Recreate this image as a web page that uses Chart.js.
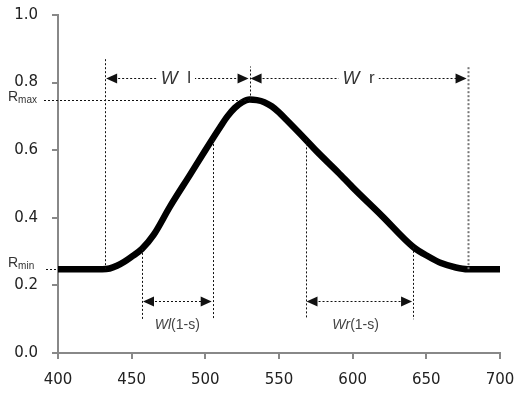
<!DOCTYPE html>
<html>
<head>
<meta charset="utf-8">
<script src="https://cdn.jsdelivr.net/npm/chart.js@4"></script>
<style>
  html, body { margin: 0; padding: 0; background: #fff; }
  #wrap { width: 517px; height: 393px; }
</style>
</head>
<body>
<div id="wrap"><canvas id="chart" width="517" height="393"></canvas></div>
<script>
// reflectance curve
const wavelengths = [400, 430, 435, 440, 445, 450, 457, 465, 476, 490, 500, 510, 515, 520, 525, 530, 535, 540, 545, 550, 555, 560, 568, 576, 590, 600, 620, 641, 652, 660, 670, 678, 690, 700];
const reflectance = [0.248, 0.248, 0.25, 0.258, 0.27, 0.285, 0.308, 0.35, 0.433, 0.53, 0.60, 0.668, 0.70, 0.725, 0.742, 0.75, 0.748, 0.742, 0.73, 0.712, 0.69, 0.668, 0.632, 0.595, 0.535, 0.49, 0.405, 0.314, 0.284, 0.266, 0.253, 0.248, 0.248, 0.248];

const xTicks = [400, 450, 500, 550, 600, 650, 700];
const yTicks = [0, 0.2, 0.4, 0.6, 0.8, 1.0];

// annotation values (wavelength / reflectance)
const rMin = 0.248;
const rMax = 0.75;
const wlStart = 432, wlPeak = 530, wrEnd = 678;
const slopeMarks = [457, 505, 568, 641];
const slopeMarkR = [0.308, 0.63, 0.632, 0.314];
const upperArrowY = 0.815, upperLineTop = 0.873;
const lowerArrowY = 0.155, lowerLineBottom = 0.1, lowerLabelY = 0.083;

const annotate = {
  id: 'annotate',
  afterDatasetsDraw(chart) {
    const { ctx, scales: { x, y } } = chart;
    const px = v => x.getPixelForValue(v);
    const py = v => y.getPixelForValue(v);

    function vline(xv, y0, y1) {
      ctx.beginPath();
      ctx.moveTo(Math.round(px(xv)) + 0.5, py(y0));
      ctx.lineTo(Math.round(px(xv)) + 0.5, py(y1));
      ctx.stroke();
    }
    function hline(x0, x1, yv) {
      ctx.beginPath();
      ctx.moveTo(x0, Math.round(py(yv)) + 0.5);
      ctx.lineTo(x1, Math.round(py(yv)) + 0.5);
      ctx.stroke();
    }
    function head(xp, yp, dir) {
      ctx.save();
      ctx.setLineDash([]);
      ctx.beginPath();
      ctx.moveTo(xp, yp);
      ctx.lineTo(xp - dir * 11, yp - 5);
      ctx.lineTo(xp - dir * 11, yp + 5);
      ctx.closePath();
      ctx.fill();
      ctx.restore();
    }
    function arrow(x0, x1, yv) {
      const a = px(x0) + 1, b = px(x1) - 1, yp = Math.round(py(yv)) + 0.5;
      hline(a + 8, b - 8, yv);
      head(a, yp, -1);
      head(b, yp, 1);
    }

    ctx.save();
    ctx.strokeStyle = '#111';
    ctx.fillStyle = '#111';
    ctx.lineWidth = 1;
    ctx.setLineDash([2, 2]);

    // Rmax / Rmin guides
    hline(44, px(wlPeak), rMax);
    hline(46, x.left, rMin);

    // outer verticals
    vline(wlStart, rMin, upperLineTop);
    vline(wlPeak, rMax, upperLineTop - 0.025);
    ctx.strokeStyle = '#777';
    ctx.lineWidth = 2;
    vline(wrEnd, rMin, upperLineTop - 0.025);
    ctx.strokeStyle = '#111';
    ctx.lineWidth = 1;

    // inner verticals
    slopeMarks.forEach((m, i) => vline(m, slopeMarkR[i], lowerLineBottom));

    // arrows
    arrow(wlStart, wlPeak, upperArrowY);
    arrow(wlPeak, wrEnd, upperArrowY);
    arrow(slopeMarks[0], slopeMarks[1], lowerArrowY);
    arrow(slopeMarks[2], slopeMarks[3], lowerArrowY);

    // labels over the upper arrows
    ctx.setLineDash([]);
    ctx.textBaseline = 'middle';
    function upperLabel(xv, sub) {
      const cx = px(xv), cy = py(upperArrowY);
      ctx.font = 'italic 18px "Liberation Sans", Arial, sans-serif';
      const w1 = ctx.measureText('W').width;
      ctx.font = '17px "Liberation Sans", Arial, sans-serif';
      const w2 = ctx.measureText('  ' + sub).width;
      const total = w1 + w2 + 8;
      ctx.fillStyle = '#fff';
      ctx.fillRect(cx - total / 2, cy - 9, total, 18);
      ctx.fillStyle = '#333';
      ctx.textAlign = 'left';
      ctx.font = 'italic 18px "Liberation Sans", Arial, sans-serif';
      ctx.fillText('W', cx - total / 2 + 4, cy + 1);
      ctx.font = '17px "Liberation Sans", Arial, sans-serif';
      ctx.fillText('  ' + sub, cx - total / 2 + 4 + w1, cy + 1);
    }
    upperLabel(480, 'l');
    upperLabel(604, 'r');

    function lowerLabel(xv, w) {
      const cx = px(xv), cy = py(lowerLabelY);
      ctx.font = 'italic 14px "Liberation Sans", Arial, sans-serif';
      const w1 = ctx.measureText(w).width;
      ctx.font = '14px "Liberation Sans", Arial, sans-serif';
      const w2 = ctx.measureText('(1-s)').width;
      const start = cx - (w1 + w2) / 2;
      ctx.fillStyle = '#444';
      ctx.textAlign = 'left';
      ctx.font = 'italic 14px "Liberation Sans", Arial, sans-serif';
      ctx.fillText(w, start, cy);
      ctx.font = '14px "Liberation Sans", Arial, sans-serif';
      ctx.fillText('(1-s)', start + w1, cy);
    }
    lowerLabel(481, 'Wl');
    lowerLabel(602, 'Wr');

    // R labels
    function rLabel(yv, sub) {
      const cy = py(yv);
      ctx.fillStyle = '#333';
      ctx.textAlign = 'left';
      ctx.font = '14px "Liberation Sans", Arial, sans-serif';
      ctx.fillText('R', 8, cy - 2);
      const w = ctx.measureText('R').width;
      ctx.font = '10px "Liberation Sans", Arial, sans-serif';
      ctx.fillText(sub, 8 + w, cy + 1);
    }
    rLabel(rMax, 'max');
    rLabel(rMin + 0.012, 'min');

    ctx.restore();
  }
};

function noOverflow(s) {
  s.paddingTop = 0;
  s.paddingBottom = 0;
  s.paddingLeft = 0;
  s.paddingRight = 0;
}

new Chart(document.getElementById('chart'), {
  type: 'line',
  data: {
    datasets: [{
      data: wavelengths.map((w, i) => ({ x: w, y: reflectance[i] })),
      borderColor: '#000',
      borderWidth: 6.5,
      pointRadius: 0,
      cubicInterpolationMode: 'monotone',
      fill: false
    }]
  },
  options: {
    responsive: false,
    animation: false,
    layout: { padding: { top: 15, right: 17, left: 0, bottom: 0 } },
    plugins: { legend: { display: false }, tooltip: { enabled: false } },
    scales: {
      x: {
        type: 'linear',
        min: 400,
        max: 700,
        afterBuildTicks: s => { s.ticks = xTicks.map(v => ({ value: v })); },
        afterFit: s => { s.height = 40; noOverflow(s); },
        grid: { drawOnChartArea: false, drawTicks: true, tickLength: 6, color: '#888', lineWidth: 2 },
        border: { display: true, color: '#888', width: 2 },
        ticks: { color: '#222', font: { family: 'DejaVu Sans', size: 15 }, padding: 12, maxRotation: 0 }
      },
      y: {
        min: 0,
        max: 1,
        afterBuildTicks: s => { s.ticks = yTicks.map(v => ({ value: v })); },
        afterFit: s => { s.width = 58; noOverflow(s); },
        grid: { drawOnChartArea: false, drawTicks: true, tickLength: 6, color: '#888', lineWidth: 2 },
        border: { display: true, color: '#888', width: 2 },
        ticks: { color: '#222', font: { family: 'DejaVu Sans', size: 15 }, padding: 14, callback: v => v.toFixed(1) }
      }
    }
  },
  plugins: [annotate]
});
</script>
</body>
</html>
